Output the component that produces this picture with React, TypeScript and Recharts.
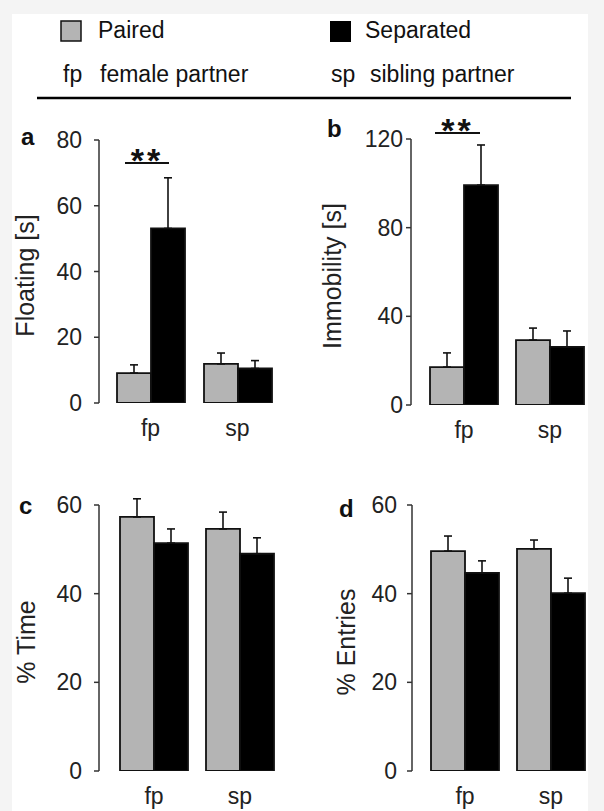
import React from "react";
import {
  BarChart,
  Bar,
  XAxis,
  YAxis,
  ErrorBar,
  ReferenceArea,
} from "recharts";

const FONT = "Arial, 'Liberation Sans', Helvetica, sans-serif";
const GREY = "#b4b4b4";
const INK = "#111";
const AXIS = "#333";

// categories and values
const categories = ["fp", "sp"];

const floatingPaired = [9.1, 11.9];
const floatingPairedSem = [2.5, 3.3];
const floatingSeparated = [53.1, 10.5];
const floatingSeparatedSem = [15.4, 2.4];
const floatingTicks = [0, 20, 40, 60, 80];

const immobilityPaired = [17.1, 29.3];
const immobilityPairedSem = [6.4, 5.4];
const immobilitySeparated = [99.2, 26.2];
const immobilitySeparatedSem = [18.1, 7.2];
const immobilityTicks = [0, 40, 80, 120];

const timePaired = [57.3, 54.6];
const timePairedSem = [4.1, 3.8];
const timeSeparated = [51.4, 49.0];
const timeSeparatedSem = [3.2, 3.6];
const percentTicks = [0, 20, 40, 60];

const entriesPaired = [49.6, 50.1];
const entriesPairedSem = [3.4, 2.0];
const entriesSeparated = [44.7, 40.1];
const entriesSeparatedSem = [2.7, 3.4];

const buildRows = (
  paired: number[],
  pairedSem: number[],
  separated: number[],
  separatedSem: number[]
) =>
  categories.map((cat, i) => ({
    cat,
    paired: paired[i],
    separated: separated[i],
    pairedErr: [0, pairedSem[i]],
    separatedErr: [0, separatedSem[i]],
  }));

type PanelProps = {
  rows: any[];
  ticks: number[];
  yLabel: string;
  left: number;
  top: number;
  width: number;
  height: number;
  margin: { top: number; right: number; bottom: number; left: number };
  yAxisWidth: number;
  padLeft: number;
  padRight: number;
  gap: number;
  tickMargin: number;
  labelX: number;
  star?: { y: number; inL: number; inR: number };
};

const Panel: React.FC<PanelProps> = (p) => {
  const max = p.ticks[p.ticks.length - 1];
  return (
    <div style={{ position: "absolute", left: p.left, top: p.top }}>
      <BarChart
        width={p.width}
        height={p.height}
        data={p.rows}
        margin={p.margin}
        barGap={0}
        barCategoryGap={p.gap}
        style={{ overflow: "visible" }}
      >
        <XAxis
          dataKey="cat"
          axisLine={false}
          tickLine={false}
          tickSize={6}
          tickMargin={11}
          height={30}
          padding={{ left: p.padLeft, right: p.padRight }}
          tick={{ fontSize: 23, fill: "#222", fontFamily: FONT }}
        />
        <YAxis
          width={p.yAxisWidth}
          domain={[0, max]}
          ticks={p.ticks}
          allowDataOverflow
          axisLine={{ stroke: AXIS, strokeWidth: 1.5 }}
          tickLine={{ stroke: AXIS, strokeWidth: 1.5 }}
          tickSize={5}
          tickMargin={p.tickMargin}
          tick={{ fontSize: 23, fill: "#222", fontFamily: FONT }}
          label={(lp: any) => {
            const vb = lp.viewBox || {};
            const x = (vb.x || 0) + p.labelX;
            const y = (vb.y || 0) + (vb.height || 0) / 2 + 4;
            return (
              <text
                x={x}
                y={y}
                transform={`rotate(-90 ${x} ${y})`}
                textAnchor="middle"
                dominantBaseline="central"
                fontSize={25}
                fontFamily={FONT}
                fill="#222"
              >
                {p.yLabel}
              </text>
            );
          }}
        />
        <Bar
          dataKey="paired"
          fill={GREY}
          stroke={INK}
          strokeWidth={1.8}
          isAnimationActive={false}
        >
          <ErrorBar
            dataKey="pairedErr"
            width={4}
            stroke={INK}
            strokeWidth={1.6}
            direction="y"
          />
        </Bar>
        <Bar
          dataKey="separated"
          fill="#000"
          stroke={INK}
          strokeWidth={1.8}
          isAnimationActive={false}
        >
          <ErrorBar
            dataKey="separatedErr"
            width={4}
            stroke={INK}
            strokeWidth={1.6}
            direction="y"
          />
        </Bar>
        {p.star && (
          <ReferenceArea
            x1="fp"
            x2="fp"
            y1={p.star.y}
            y2={p.star.y + 2}
            ifOverflow="visible"
            shape={(sp: any) => {
              const lineY = sp.y + sp.height;
              const x1 = sp.x + p.star!.inL;
              const x2 = sp.x + sp.width - p.star!.inR;
              return (
                <g>
                  <line x1={x1} x2={x2} y1={lineY} y2={lineY} stroke={INK} strokeWidth={2} />
                  <text
                    x={(x1 + x2) / 2}
                    y={lineY + 9}
                    textAnchor="middle"
                    fontSize={34}
                    fontWeight="bold"
                    letterSpacing={3}
                    fontFamily={FONT}
                    fill={INK}
                  >
                    **
                  </text>
                </g>
              );
            }}
          />
        )}
      </BarChart>
    </div>
  );
};

const Header: React.FC = () => (
  <svg
    width={604}
    height={811}
    style={{ position: "absolute", left: 0, top: 0, pointerEvents: "none" }}
    fontFamily={FONT}
    fill="#111"
  >
    <rect x={61} y={21} width={20} height={20} fill={GREY} stroke={INK} strokeWidth={1.5} />
    <text x={98} y={38} fontSize={23}>Paired</text>
    <rect x={330} y={21} width={21} height={21} fill="#000" />
    <text x={365} y={38} fontSize={23}>Separated</text>
    <text x={63} y={82} fontSize={23}>fp</text>
    <text x={100} y={82} fontSize={23}>female partner</text>
    <text x={331} y={82} fontSize={23}>sp</text>
    <text x={370} y={82} fontSize={23}>sibling partner</text>
    <line x1={37} x2={571} y1={98} y2={98} stroke="#000" strokeWidth={2.5} />
    <text x={21} y={145} fontSize={24} fontWeight="bold">a</text>
    <text x={327} y={137} fontSize={24} fontWeight="bold">b</text>
    <text x={19} y={514} fontSize={24} fontWeight="bold">c</text>
    <text x={339} y={517} fontSize={24} fontWeight="bold">d</text>
  </svg>
);

export default function App() {
  return (
    <div
      style={{
        position: "absolute",
        left: 0,
        top: 0,
        width: 604,
        height: 811,
        overflow: "hidden",
        background: "#f4f4f4",
        fontFamily: FONT,
      }}
    >
      <div
        style={{
          position: "absolute",
          left: 12,
          top: 14,
          width: 576,
          height: 797,
          background: "#fff",
        }}
      />
      <Panel
        rows={buildRows(floatingPaired, floatingPairedSem, floatingSeparated, floatingSeparatedSem)}
        ticks={floatingTicks}
        yLabel="Floating [s]"
        left={0}
        top={100}
        width={290}
        height={350}
        margin={{ top: 40, right: 0, bottom: 17, left: 0 }}
        yAxisWidth={99}
        padLeft={8}
        padRight={9}
        gap={10}
        tickMargin={12}
        labelX={25}
        star={{ y: 73, inL: 18, inR: 25 }}
      />
      <Panel
        rows={buildRows(immobilityPaired, immobilityPairedSem, immobilitySeparated, immobilitySeparatedSem)}
        ticks={immobilityTicks}
        yLabel="Immobility [s]"
        left={300}
        top={100}
        width={300}
        height={352}
        margin={{ top: 39, right: 0, bottom: 17, left: 0 }}
        yAxisWidth={111}
        padLeft={10}
        padRight={7}
        gap={9}
        tickMargin={3}
        labelX={32}
        star={{ y: 122.7, inL: 14, inR: 27 }}
      />
      <Panel
        rows={buildRows(timePaired, timePairedSem, timeSeparated, timeSeparatedSem)}
        ticks={percentTicks}
        yLabel="% Time"
        left={0}
        top={470}
        width={300}
        height={341}
        margin={{ top: 35, right: 0, bottom: 10, left: 0 }}
        yAxisWidth={99}
        padLeft={12}
        padRight={17}
        gap={9}
        tickMargin={12}
        labelX={26}
      />
      <Panel
        rows={buildRows(entriesPaired, entriesPairedSem, entriesSeparated, entriesSeparatedSem)}
        ticks={percentTicks}
        yLabel="% Entries"
        left={300}
        top={470}
        width={300}
        height={341}
        margin={{ top: 35, right: 0, bottom: 10, left: 0 }}
        yAxisWidth={112}
        padLeft={10}
        padRight={6}
        gap={9}
        tickMargin={10}
        labelX={46}
      />
      <Header />
    </div>
  );
}
